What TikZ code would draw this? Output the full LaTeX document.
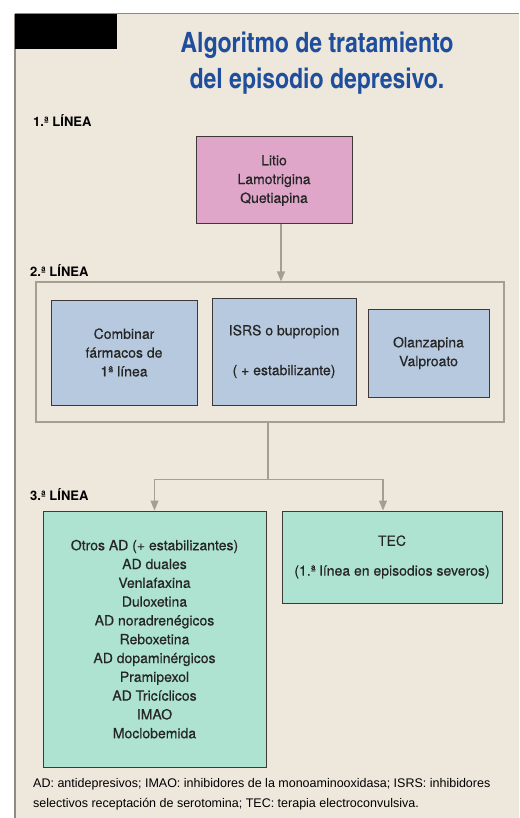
\documentclass[tikz,border=0pt]{standalone}
\usepackage{fontspec}
\setmainfont{TeX Gyre Heros}
\newfontfamily\condfont{TeX Gyre Heros Cn}
\newfontfamily\cajafont{TeX Gyre Heros}[FakeBold=0.5]
\newfontfamily\notefont{Liberation Sans}
\usetikzlibrary{arrows.meta}
\definecolor{fondo}{HTML}{EDE7DC}
\definecolor{marco}{HTML}{8F8B84}
\definecolor{gris}{HTML}{A39F93}
\definecolor{azultit}{HTML}{1F4E9C}
\definecolor{rosa}{HTML}{DFA6C9}
\definecolor{azul}{HTML}{B7C9DF}
\definecolor{verde}{HTML}{AEE3D1}
\definecolor{borde}{HTML}{3E3838}

\tikzset{
  caja/.style={draw=borde, line width=1pt, rectangle, align=center, inner sep=0pt,
    text=black!85, font=\cajafont\fontsize{14}{18.8}\selectfont},
  rotulo/.style={anchor=base west, inner sep=0pt, font=\bfseries\fontsize{13}{15}\selectfont},
  flecha/.style={draw=gris, line width=1.2pt, -{Triangle[length=10pt,width=8pt]}},
}

\begin{document}
\begin{tikzpicture}[x=1pt, y=-1pt]
  \useasboundingbox (0,0) rectangle (519,818);
  \fill[white] (0,0) rectangle (519,818);
  \fill[fondo] (15,14) rectangle (519,818);
  \draw[marco, line width=1pt] (519,14) -- (15,14);
  \draw[marco, line width=2pt] (15,14) -- (15,818);
  \fill[black] (15,14) rectangle (117,49);

  % titulo
  \node[font=\condfont\bfseries\fontsize{28}{36.5}\selectfont, text=azultit, align=center] (titulo) at (317,63)
    {Algoritmo de tratamiento\\del episodio depresivo.};

  % 1.a linea
  \node[rotulo] (primera) at (33,127) {1.ª LÍNEA};
  \node[caja, fill=rosa, minimum width=156, minimum height=87] (litio) at (274,180.5)
    {Litio\\Lamotrigina\\Quetiapina};

  % 2.a linea
  \node[rotulo] (segunda) at (30,276) {2.ª LÍNEA};
  \node[draw=gris, line width=1.2pt, rectangle, minimum width=468, minimum height=140] (grupo) at (270,352) {};
  \node[caja, fill=azul, minimum width=146, minimum height=105] (combinar) at (124,352.5)
    {Combinar\\fármacos de\\1ª línea};
  \node[caja, fill=azul, minimum width=144, minimum height=107] (isrs) at (284,351.5)
    {ISRS o bupropion\\[21pt]( + estabilizante)};
  \node[caja, fill=azul, minimum width=121, minimum height=88] (olanza) at (428.5,353)
    {Olanzapina\\Valproato};

  \draw[flecha] ([xshift=7pt]litio.south) -- ([xshift=7pt]litio.south |- grupo.north);

  % 3.a linea
  \node[rotulo] (tercera) at (30,500) {3.ª LÍNEA};
  \node[caja, fill=verde, minimum width=223, minimum height=256, text depth=-8pt] (otros) at (154.5,639)
    {Otros AD (+ estabilizantes)\\AD duales\\Venlafaxina\\Duloxetina\\AD noradrenégicos\\Reboxetina\\
     AD dopaminérgicos\\Pramipexol\\AD Tricíclicos\\IMAO\\Moclobemida};
  \node[caja, fill=verde, minimum width=220, minimum height=92] (tec) at (392,557)
    {TEC\\[11pt](1.ª línea en episodios severos)};

  \draw[gris, line width=1.2pt] ([xshift=-2pt]grupo.south) -- ++(0,57) coordinate (rama);
  \draw[flecha] (rama) -| (otros.north);
  \draw[flecha] (rama) -| ([xshift=-9pt]tec.north);

  % nota
  \node[anchor=base west, inner sep=0pt, align=left, font=\notefont\fontsize{12.5}{20}\selectfont] (nota) at (33,807)
    {AD: antidepresivos; IMAO: inhibidores de la monoaminooxidasa; ISRS: inhibidores\\
     selectivos receptación de serotomina; TEC: terapia electroconvulsiva.};
\end{tikzpicture}
\end{document}
